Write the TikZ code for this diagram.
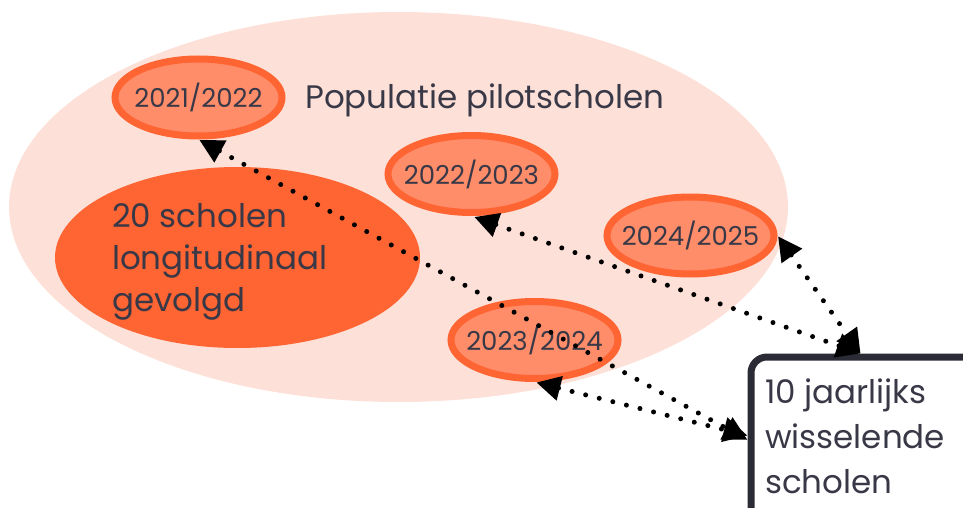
\documentclass[tikz,border=0pt]{standalone}
\usepackage{fontspec}
\setmainfont{Poppins}
\usetikzlibrary{shapes.geometric}
\usetikzlibrary{arrows.meta}

\definecolor{paleroze}{HTML}{FDE0D7}
\definecolor{oranje}{HTML}{FF6433}
\definecolor{zalm}{HTML}{FF8D6A}
\definecolor{inkt}{HTML}{383847}
\definecolor{kader}{HTML}{2B2B36}

\begin{document}
\begin{tikzpicture}[x=1pt,y=-1pt,
    year/.style={ellipse, draw=oranje, fill=zalm, line width=7pt, inner xsep=-20pt, inner ysep=0pt,
      minimum width=167pt, minimum height=77pt, text=inkt, font=\fontsize{26}{26}\selectfont},
    label/.style={inner sep=0pt, text=inkt, align=left},
    link/.style={line width=5pt, dash pattern=on 0pt off 14pt, line cap=round,
      {Triangle[length=24pt,width=24pt]}-{Triangle[length=24pt,width=24pt]}}]
  \useasboundingbox (0,0) rectangle (963,508);
  \clip (0,0) rectangle (963,508);

  \node[ellipse, fill=paleroze, minimum width=779pt, minimum height=390pt] (pop) at (398.5,207) {};
  \node[label, anchor=base west, font=\fontsize{32.5}{32.5}\selectfont] (poptxt) at (305,109) {Populatie pilotscholen};

  \node[ellipse, fill=oranje, minimum width=365pt, minimum height=181pt] (long) at (237.5,257.5) {};
  \node[label, anchor=north west, font=\fontsize{32.5}{42}\selectfont] (longtxt) at (112,203)
    {20 scholen\\longitudinaal\\gevolgd};

  \node[year] (y2122) at (198.5,97.5) {2021/2022};
  \node[year] (y2223) at (471.5,174) {2022/2023};
  \node[year] (y2425) at (690.5,235.5) {2024/2025};
  \node[year] (y2324) at (534.5,340) {2023/2024};

  \node[draw=kader, fill=white, line width=7pt, rounded corners=16pt,
    minimum width=239pt, minimum height=183pt] (wissel) at (870.5,448.5) {};
  \node[label, anchor=north west, font=\fontsize{32.5}{45}\selectfont] (wisseltxt) at (765,379)
    {10 jaarlijks\\wisselende\\scholen};

  \draw[link, shorten <=1pt] (y2122.-90) -- (wissel.176);
  \draw[link, shorten <=3pt] (y2223.-90) -- (wissel.96);
  \draw[link, shorten <=2pt] (y2324.-90) -- (wissel.174);
  \draw[link, shorten <=1pt] (y2425.0) -- (wissel.96);
\end{tikzpicture}
\end{document}
